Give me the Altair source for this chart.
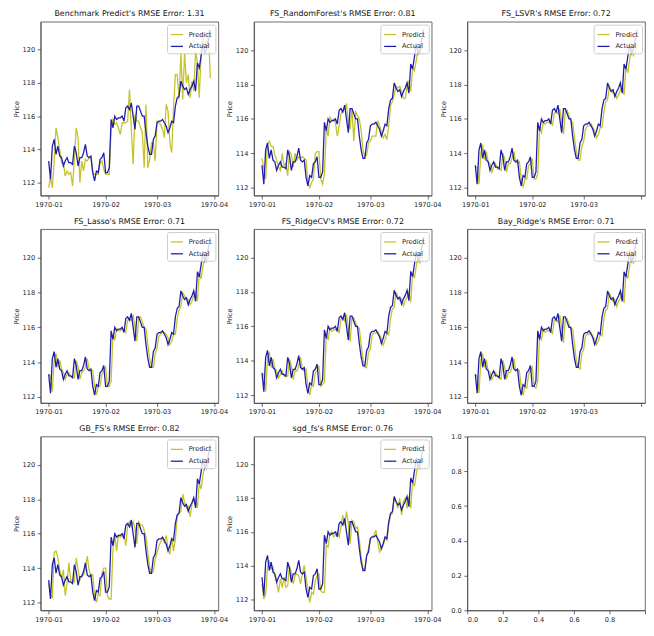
import json
import altair as alt
import pandas as pd

# ---------------- data ----------------
day_ticks = [0, 31, 59, 90]
day_tick_labels = ["1970-01", "1970-02", "1970-03", "1970-04"]
price_ticks = [112, 114, 116, 118, 120]
unit_ticks = [0.0, 0.2, 0.4, 0.6, 0.8, 1.0]

actual = [
    113.3, 112.2, 114.2, 114.6, 113.7, 114.2, 113.6, 113.5, 113.0, 113.3,
    113.5, 113.2, 113.2, 113.1, 114.2, 113.8, 113.0, 113.5, 113.5, 113.8,
    114.3, 113.6, 113.5, 113.6, 112.6, 112.1, 112.7, 112.6, 113.4, 113.5,
    113.8, 112.6, 112.6, 112.9, 115.8, 115.3, 116.0, 115.8, 115.9, 115.9,
    116.0, 115.7, 116.5, 116.6, 116.4, 116.8, 116.0, 115.2, 116.6, 116.6,
    116.3, 116.0, 116.0, 115.0, 114.2, 113.7, 113.7, 114.6, 114.8, 115.6,
    115.7, 115.7, 115.8, 115.6, 115.4, 115.0, 115.3, 115.7, 115.6, 116.6,
    117.1, 117.2, 118.1, 117.8, 117.6, 117.7, 117.3, 117.6, 117.8, 118.1,
    117.5, 119.2, 118.9, 119.6, 120.4, 119.8, 120.0, 120.6, 121.2,
]

pred_benchmark = [
    111.7, 112.3, 111.7, 113.3, 115.3, 114.7, 114.0, 113.2, 113.2, 112.4,
    112.7, 112.5, 112.6, 111.8, 113.4, 115.3, 114.7, 112.0, 113.3, 112.7,
    113.4, 113.3, 113.5, 113.5, 112.6, 112.5, 112.5, 112.5, 113.2, 113.3,
    112.8, 112.5, 112.5, 112.5, 115.2, 115.8, 115.5, 115.6, 115.3, 114.9,
    115.6, 115.6, 115.6, 115.7, 117.6, 115.2, 113.1, 116.1, 115.7, 115.7,
    115.3, 115.0, 112.9, 116.7, 112.9, 113.4, 114.4, 114.4, 113.3, 115.7,
    115.6, 115.5, 115.2, 114.7, 116.7, 116.3, 114.4, 113.8, 116.6, 118.5,
    118.5, 117.0, 119.8, 117.0, 119.8, 118.0, 118.5, 117.1, 118.1, 117.5,
    119.9, 119.2, 117.1, 119.8, 121.0, 120.0, 120.5, 121.2, 118.3,
]

pred_randomforest = [
    113.7, 113.1, 112.5, 114.5, 114.7, 114.4, 114.4, 113.9, 113.6, 113.2,
    113.0, 114.0, 113.3, 113.4, 112.7, 114.1, 113.9, 113.2, 114.0, 113.6,
    113.8, 113.7, 113.8, 113.7, 113.6, 112.3, 112.0, 112.3, 112.5, 114.0,
    114.1, 114.1, 112.5, 112.2, 112.8, 115.5, 115.0, 116.1, 115.9, 116.0,
    115.8, 115.0, 115.6, 116.3, 116.5, 116.6, 116.9, 115.8, 115.4, 116.6,
    114.7, 116.4, 116.2, 116.0, 115.3, 114.2, 113.8, 113.9, 114.6, 114.7,
    115.0, 115.0, 115.0, 115.9, 115.6, 115.3, 114.9, 115.1, 114.8, 115.6,
    116.8, 117.0, 117.4, 117.9, 117.8, 117.9, 117.6, 117.2, 117.2, 117.9,
    118.2, 117.6, 119.0, 118.8, 119.4, 120.1, 119.8, 120.0, 120.4,
]

pred_lsvr = [
    113.2, 113.2, 112.2, 114.0, 114.5, 113.6, 114.1, 113.5, 113.4, 112.9,
    113.2, 113.4, 113.1, 113.1, 113.0, 114.0, 113.7, 112.9, 113.4, 113.4,
    113.7, 114.1, 113.5, 113.4, 113.5, 112.5, 112.0, 112.5, 112.5, 113.3,
    113.4, 113.7, 112.5, 112.5, 112.8, 115.5, 115.2, 115.8, 115.7, 115.8,
    115.8, 115.9, 115.6, 116.3, 116.5, 116.3, 116.6, 115.9, 115.1, 116.5,
    116.5, 116.2, 115.9, 115.8, 114.9, 114.1, 113.6, 113.6, 114.4, 114.7,
    115.4, 115.6, 115.6, 115.7, 115.5, 115.3, 114.9, 115.1, 115.5, 115.5,
    116.4, 117.0, 117.1, 117.9, 117.7, 117.5, 117.5, 117.2, 117.4, 117.7,
    117.9, 117.4, 119.0, 118.7, 119.4, 120.2, 119.7, 119.9, 120.4,
]

pred_lasso = [
    113.3, 113.2, 112.3, 114.1, 114.5, 113.7, 114.1, 113.6, 113.4, 113.0,
    113.3, 113.4, 113.2, 113.1, 113.1, 114.1, 113.7, 113.0, 113.4, 113.5,
    113.7, 114.2, 113.6, 113.5, 113.5, 112.6, 112.1, 112.6, 112.6, 113.3,
    113.5, 113.7, 112.6, 112.6, 112.9, 115.6, 115.3, 115.9, 115.8, 115.8,
    115.9, 115.9, 115.7, 116.4, 116.5, 116.4, 116.7, 116.0, 115.2, 116.5,
    116.6, 116.3, 116.0, 115.9, 115.0, 114.2, 113.7, 113.7, 114.5, 114.8,
    115.5, 115.6, 115.7, 115.7, 115.6, 115.4, 115.0, 115.2, 115.6, 115.6,
    116.5, 117.0, 117.2, 118.0, 117.8, 117.6, 117.6, 117.3, 117.5, 117.8,
    118.0, 117.5, 119.1, 118.8, 119.5, 120.3, 119.8, 120.0, 120.5,
]

pred_ridgecv = [
    113.2, 113.2, 112.2, 114.1, 114.5, 113.6, 114.1, 113.5, 113.4, 113.0,
    113.2, 113.4, 113.1, 113.1, 113.1, 114.1, 113.7, 112.9, 113.4, 113.4,
    113.7, 114.2, 113.5, 113.4, 113.5, 112.5, 112.0, 112.6, 112.5, 113.3,
    113.4, 113.7, 112.5, 112.6, 112.8, 115.6, 115.2, 115.9, 115.7, 115.8,
    115.8, 115.9, 115.6, 116.4, 116.5, 116.3, 116.7, 115.9, 115.1, 116.5,
    116.5, 116.2, 115.9, 115.9, 114.9, 114.1, 113.6, 113.6, 114.5, 114.7,
    115.5, 115.6, 115.6, 115.7, 115.5, 115.3, 114.9, 115.2, 115.6, 115.5,
    116.5, 117.0, 117.1, 118.0, 117.7, 117.5, 117.6, 117.2, 117.5, 117.7,
    118.0, 117.4, 119.1, 118.8, 119.5, 120.3, 119.7, 119.9, 120.5,
]

pred_bayridge = [
    113.3, 113.2, 112.2, 114.1, 114.5, 113.7, 114.1, 113.5, 113.4, 113.0,
    113.2, 113.4, 113.2, 113.1, 113.0, 114.1, 113.7, 113.0, 113.4, 113.4,
    113.7, 114.2, 113.5, 113.5, 113.5, 112.5, 112.1, 112.6, 112.5, 113.3,
    113.5, 113.7, 112.6, 112.5, 112.9, 115.6, 115.3, 115.9, 115.7, 115.8,
    115.8, 115.9, 115.6, 116.4, 116.5, 116.3, 116.7, 116.0, 115.1, 116.5,
    116.5, 116.2, 115.9, 115.9, 115.0, 114.1, 113.7, 113.6, 114.5, 114.7,
    115.5, 115.6, 115.6, 115.7, 115.5, 115.3, 115.0, 115.2, 115.6, 115.5,
    116.5, 117.0, 117.1, 118.0, 117.7, 117.5, 117.6, 117.2, 117.5, 117.7,
    118.0, 117.4, 119.1, 118.8, 119.5, 120.3, 119.7, 119.9, 120.5,
]

pred_gb = [
    113.1, 112.4, 112.3, 114.9, 115.0, 114.6, 113.9, 113.4, 113.9, 112.4,
    113.1, 114.3, 113.3, 113.3, 113.2, 114.6, 113.9, 113.3, 113.6, 113.6,
    114.0, 114.7, 113.9, 113.5, 113.6, 112.4, 112.0, 112.5, 112.4, 113.7,
    114.0, 114.0, 112.4, 112.2, 112.2, 115.1, 115.9, 115.0, 115.9, 115.8,
    115.9, 116.0, 115.3, 116.5, 116.7, 116.4, 116.7, 116.3, 115.4, 116.7,
    116.5, 116.5, 116.2, 115.8, 114.9, 114.0, 113.7, 113.8, 114.5, 114.9,
    115.3, 115.5, 115.8, 115.5, 115.9, 115.1, 114.8, 115.8, 115.0, 115.7,
    117.0, 117.2, 117.3, 118.3, 117.8, 117.5, 117.6, 117.0, 117.7, 118.0,
    118.0, 117.5, 119.0, 118.6, 119.4, 120.0, 119.8, 120.2, 120.4,
]

pred_sgd = [
    112.9, 112.0, 112.3, 113.9, 114.3, 113.8, 113.9, 113.4, 113.0, 112.4,
    113.2, 112.7, 113.3, 112.7, 112.8, 114.0, 113.5, 112.9, 113.4, 113.5,
    113.4, 112.9, 113.5, 114.0, 113.3, 112.6, 111.8, 112.4, 112.3, 113.1,
    113.4, 113.5, 112.5, 112.4, 112.4, 115.2, 115.1, 115.9, 116.0, 115.7,
    115.8, 116.0, 115.7, 116.3, 117.0, 116.4, 117.2, 116.5, 115.3, 116.7,
    116.6, 116.2, 116.3, 115.5, 114.5, 113.8, 113.8, 114.6, 115.0, 115.6,
    115.7, 115.8, 116.1, 115.4, 114.8, 115.0, 115.2, 115.6, 115.5, 116.4,
    117.0, 117.1, 118.0, 117.8, 117.4, 118.0, 117.0, 117.8, 118.0, 117.4,
    118.1, 117.4, 119.0, 118.7, 119.4, 120.2, 119.7, 120.1, 120.5,
]

model_names = ["Benchmark Predict", "FS_RandomForest", "FS_LSVR", "FS_Lasso",
               "FS_RidgeCV", "Bay_Ridge", "GB_FS", "sgd_fs"]
rmse_errors = [1.31, 0.81, 0.72, 0.71, 0.72, 0.71, 0.82, 0.76]
predictions = [pred_benchmark, pred_randomforest, pred_lsvr, pred_lasso,
               pred_ridgecv, pred_bayridge, pred_gb, pred_sgd]

# ---------------- styling ----------------
YELLOW = "#c4c42a"
BLUE = "#1e1eac"
FONT = "DejaVu Sans"
PW, PH = 180, 176
LINE_W = 1.3

labels_js = json.dumps(day_tick_labels)
ticks_js = json.dumps(day_ticks)
x_label_expr = f"{labels_js}[indexof({ticks_js}, datum.value)]"
# the right-most column is cut by the page edge in the reference: no last label there
x_label_expr_cut = f"datum.value >= {day_ticks[-1]} ? '' : {labels_js}[indexof({ticks_js}, datum.value)]"

color_scale = alt.Scale(domain=["Predict", "Actual"], range=[YELLOW, BLUE])
legend = alt.Legend(
    title=None, orient="top-right", offset=3,
    fillColor="rgba(255,255,255,0.8)", strokeColor="#cccccc", cornerRadius=2,
    padding=3, labelFont=FONT, labelFontSize=6.7, labelColor="#222222",
    symbolType="stroke", symbolStrokeWidth=LINE_W, symbolSize=150,
    rowPadding=1, labelOffset=5,
)


def panel(name, err, pred, last_col):
    n = len(actual)
    df = pd.DataFrame({"day": list(range(n)), "Actual": actual, "Predict": pred})
    lo = min(min(actual), min(pred))
    hi = max(max(actual), max(pred))
    ypad = 0.05 * (hi - lo)
    xpad = 0.05 * (n - 1)
    x = alt.X("day:Q",
              scale=alt.Scale(domain=[-xpad, n - 1 + xpad], nice=False, zero=False),
              axis=alt.Axis(values=day_ticks,
                            labelExpr=x_label_expr_cut if last_col else x_label_expr,
                            title=None))
    yscale = alt.Scale(domain=[lo - ypad, hi + ypad], nice=False, zero=False)
    yaxis = alt.Axis(values=price_ticks, title="Price")
    base = alt.Chart(df)
    p_line = base.mark_line(strokeWidth=LINE_W, clip=True).transform_calculate(
        series="'Predict'").encode(
        x=x, y=alt.Y("Predict:Q", scale=yscale, axis=yaxis),
        color=alt.Color("series:N", scale=color_scale, legend=legend))
    a_line = base.mark_line(strokeWidth=LINE_W, clip=True).transform_calculate(
        series="'Actual'").encode(
        x=x, y=alt.Y("Actual:Q", scale=yscale, axis=yaxis),
        color=alt.Color("series:N", scale=color_scale, legend=legend))
    title_df = pd.DataFrame({"t": [f"{name}'s RMSE Error: {err:.2f}"]})
    title = alt.Chart(title_df).mark_text(
        font=FONT, fontSize=8, color="#111111", align="center", baseline="bottom"
    ).encode(text="t:N", x=alt.value(PW / 2), y=alt.value(-3.5))
    return alt.layer(p_line, a_line, title).properties(width=PW, height=PH)


panels = [panel(nm, e, p, i % 3 == 2)
          for i, (nm, e, p) in enumerate(zip(model_names, rmse_errors, predictions))]

empty_df = pd.DataFrame({"x": [0.0], "y": [0.0]})
empty = alt.Chart(empty_df).mark_point(opacity=0).encode(
    x=alt.X("x:Q", scale=alt.Scale(domain=[0, 1], nice=False),
            axis=alt.Axis(values=unit_ticks, title=None,
                          labelExpr="datum.value >= 1 ? '' : format(datum.value, '.1f')")),
    y=alt.Y("y:Q", scale=alt.Scale(domain=[0, 1], nice=False),
            axis=alt.Axis(values=unit_ticks, format=".1f", title=None)),
).properties(width=PW, height=PH)

chart = alt.concat(*panels, empty, columns=3, spacing={"row": 34, "column": 36},
                   bounds="flush").resolve_scale(
    color="independent", x="independent", y="independent"
).resolve_legend(color="independent").properties(
    padding={"left": 5, "top": -2, "right": 0, "bottom": 0}
).configure_axis(
    labelFont=FONT, labelFontSize=6.7, labelColor="#222222",
    titleFont=FONT, titleFontSize=6.7, titleFontWeight="normal", titleColor="#222222",
    tickColor="#444444", tickSize=3.5, tickWidth=0.8,
    domainColor="#444444", domainWidth=0.8, grid=False,
    labelPadding=2.5, titlePadding=2.5,
).configure_view(
    stroke="#444444", strokeWidth=0.8
)

chart.save("out.html", embed_options={"renderer": "svg", "actions": False})
